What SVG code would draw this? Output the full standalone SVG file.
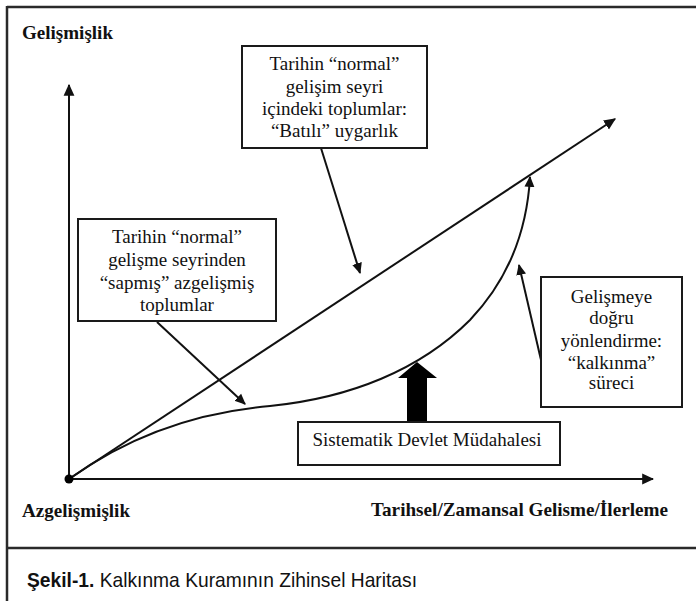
<svg xmlns="http://www.w3.org/2000/svg" width="696" height="601" viewBox="0 0 696 601">
<style>
.frame{stroke:#2a2a2a;stroke-width:2.5;fill:none}
.box{fill:#fff;stroke:#1a1a1a;stroke-width:2}
.t{font-family:"Liberation Serif","Times New Roman",serif;font-size:19px;fill:#111;text-anchor:middle}
.lab{font-family:"Liberation Serif","Times New Roman",serif;font-size:19px;font-weight:bold;fill:#111}
.ln{stroke:#111;stroke-width:2;fill:none}
.cap{font-family:"Liberation Sans",Arial,sans-serif;font-size:21px;fill:#111}
</style>
<defs>
<marker id="ah" viewBox="0 0 10 10" refX="9" refY="5" markerWidth="6" markerHeight="6" markerUnits="strokeWidth" orient="auto">
<path d="M0,0.5 L10,5 L0,9.5 Z" fill="#111"/>
</marker>
<marker id="ahs" viewBox="0 0 10 10" refX="9" refY="5" markerWidth="5.5" markerHeight="5.5" markerUnits="strokeWidth" orient="auto">
<path d="M0,0.5 L10,5 L0,9.5 Z" fill="#111"/>
</marker>
</defs>
<rect width="696" height="601" fill="#fff"/>
<g id="frame">
<line class="frame" x1="7" y1="7" x2="696" y2="7"/>
<line class="frame" x1="7" y1="6" x2="7" y2="601"/>
<line class="frame" x1="7" y1="548" x2="696" y2="548"/>
</g>
<g id="connectors">
<line id="y-axis" class="ln" x1="69" y1="479" x2="69" y2="85" marker-end="url(#ah)"/>
<line id="x-axis" class="ln" x1="69" y1="479" x2="653" y2="479" marker-end="url(#ah)"/>
<line id="normal-line" class="ln" x1="69" y1="479" x2="615" y2="119" marker-end="url(#ah)"/>
<path id="dev-curve" class="ln" d="M69,479 C130,435 200,412 270,406 C350,398 420,370 470,320 C510,278 527,230 530,177" marker-end="url(#ahs)"/>
<line class="ln" x1="321" y1="148" x2="360" y2="273" marker-end="url(#ahs)"/>
<line class="ln" x1="157" y1="322" x2="245" y2="404" marker-end="url(#ahs)"/>
<line class="ln" x1="541" y1="360" x2="519" y2="265" marker-end="url(#ahs)"/>
<path id="big-arrow" d="M407,422 L407,378 L398,378 L417,362 L437,378 L427,378 L427,422 Z" fill="#000"/>
<circle cx="69" cy="479" r="4.5" fill="#000"/>
</g>
<g id="label-gelismislik"><text class="lab" x="22" y="39" textLength="91" lengthAdjust="spacingAndGlyphs">Gelişmişlik</text></g>
<g id="label-azgelismislik"><text class="lab" x="22" y="517" textLength="108" lengthAdjust="spacingAndGlyphs">Azgelişmişlik</text></g>
<g id="label-xaxis"><text class="lab" x="371" y="516" textLength="297" lengthAdjust="spacingAndGlyphs">Tarihsel/Zamansal Gelisme/İlerleme</text></g>
<g id="box-western">
<rect class="box" x="242" y="46" width="185" height="102"/>
<text class="t" x="334.5" y="70">Tarihin “normal”</text>
<text class="t" x="334.5" y="93">gelişim seyri</text>
<text class="t" x="334.5" y="115">içindeki toplumlar:</text>
<text class="t" x="334.5" y="137">“Batılı” uygarlık</text>
</g>
<g id="box-underdeveloped">
<rect class="box" x="78" y="219" width="198" height="102"/>
<text class="t" x="177" y="243">Tarihin “normal”</text>
<text class="t" x="177" y="266">gelişme seyrinden</text>
<text class="t" x="177" y="289">“sapmış” azgelişmiş</text>
<text class="t" x="177" y="311">toplumlar</text>
</g>
<g id="box-kalkinma">
<rect class="box" x="541" y="277" width="141" height="130"/>
<text class="t" x="611.5" y="303">Gelişmeye</text>
<text class="t" x="611.5" y="324">doğru</text>
<text class="t" x="611.5" y="347">yönlendirme:</text>
<text class="t" x="611.5" y="369">“kalkınma”</text>
<text class="t" x="611.5" y="389">süreci</text>
</g>
<g id="box-state">
<rect class="box" x="298" y="422" width="262" height="43"/>
<text class="t" x="427" y="446">Sistematik Devlet Müdahalesi</text>
</g>
<g id="caption">
<text class="cap" x="27" y="587" textLength="390" lengthAdjust="spacingAndGlyphs"><tspan font-weight="bold">Şekil-1.</tspan> Kalkınma Kuramının Zihinsel Haritası</text>
</g>
</svg>
